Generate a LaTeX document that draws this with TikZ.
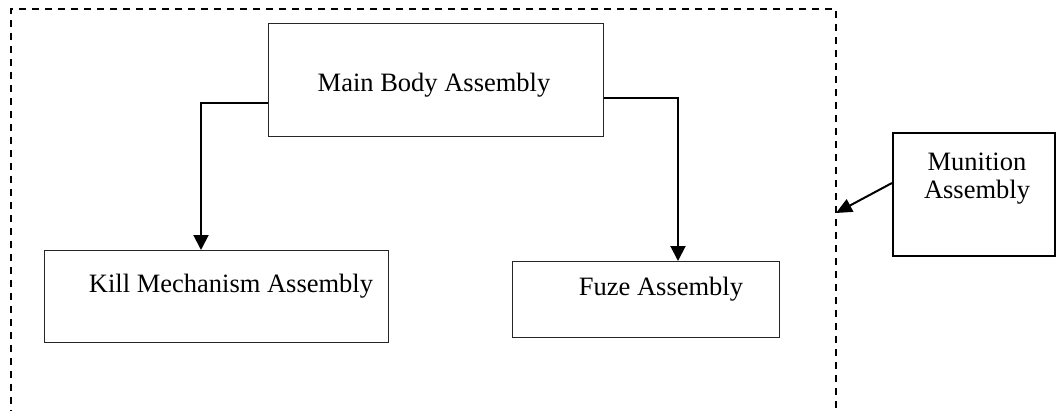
\documentclass[tikz,border=0pt]{standalone}
\usepackage{fontspec}
\setmainfont{Liberation Serif}
\usetikzlibrary{arrows.meta}
\begin{document}
\begin{tikzpicture}[x=1pt,y=-1pt,
  box/.style={draw=black!85,line width=1pt,inner sep=0pt,anchor=north west},
  thickbox/.style={draw=black,line width=1.6pt,inner sep=0pt,anchor=north west},
  lbl/.style={inner sep=0pt,anchor=base,font=\fontsize{26.5}{28}\selectfont,align=center},
  conn/.style={line width=2pt,-{Triangle[width=15pt,length=15pt]}},
  frame/.style={line width=1.6pt,dash pattern=on 7pt off 6pt}]
\useasboundingbox (0,0) rectangle (1061,410);
\draw[frame] (11,430) -- (11,9) -- (836,9) -- (836,430);
\coordinate (fr) at (836,213);
\node[box,minimum width=335pt,minimum height=113pt] (main) at (268,23) {};
\node[box,minimum width=344pt,minimum height=92pt] (kill) at (44,250) {};
\node[box,minimum width=267pt,minimum height=76pt] (fuze) at (512,261) {};
\node[thickbox,minimum width=162pt,minimum height=123pt] (mun) at (892,132) {};
\node[lbl] (tmain) at (434,91) {Main Body Assembly};
\node[lbl] (tkill) at (231,292) {Kill Mechanism Assembly};
\node[lbl] (tfuze) at (661,295) {Fuze Assembly};
\node[lbl] (tmun) at (977,170) {Munition};
\node[lbl] (tmun2) at (977,198) {Assembly};
\draw[conn] (main.west |- 0,103) -| (kill.north -| 201,0);
\draw[conn] (main.east |- 0,98) -| (fuze.north -| 678,0);
\draw[line width=2pt,-{Triangle[width=14pt,length=16pt]}] (mun.west |- 0,183) -- (fr);
\end{tikzpicture}
\end{document}
